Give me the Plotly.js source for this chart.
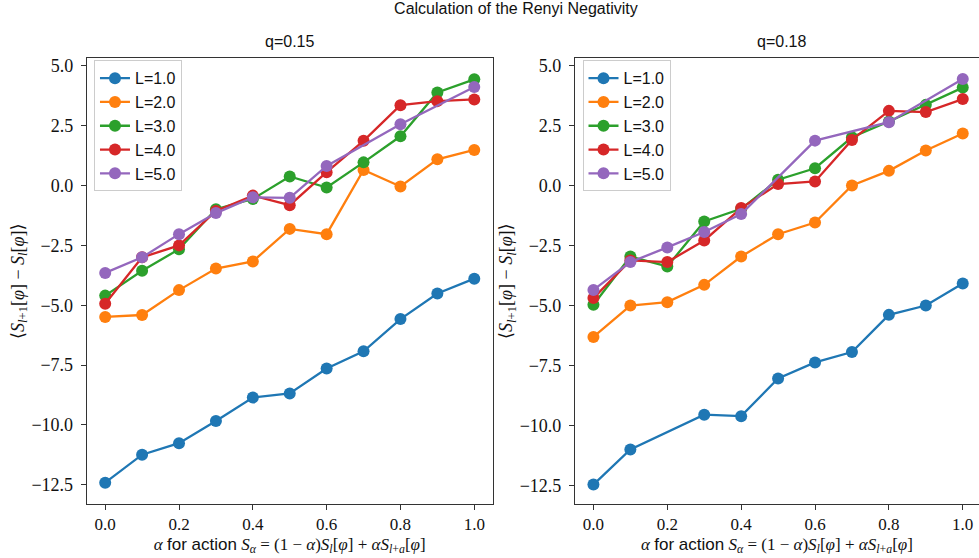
<!DOCTYPE html>
<html>
<head>
<meta charset="utf-8">
<script src="https://cdn.plot.ly/plotly-3.0.1.min.js"></script>
<style>html,body{margin:0;padding:0;background:#fff;}#chart{width:979px;height:558px;}</style>
</head>
<body>
<div id="chart"></div>
<script>
// alpha values (x axis)
const alpha = [0.0, 0.1, 0.2, 0.3, 0.4, 0.5, 0.6, 0.7, 0.8, 0.9, 1.0];
const seriesNames = ["L=1.0", "L=2.0", "L=3.0", "L=4.0", "L=5.0"];
const colors = ["#1f77b4", "#ff7f0e", "#2ca02c", "#d62728", "#9467bd"];

// q = 0.15 (left panel)
const q15_L1 = [-12.42, -11.25, -10.77, -9.84, -8.86, -8.69, -7.65, -6.93, -5.58, -4.51, -3.89];
const q15_L2 = [-5.49, -5.41, -4.37, -3.47, -3.17, -1.81, -2.03, 0.65, -0.04, 1.10, 1.49];
const q15_L3 = [-4.60, -3.56, -2.66, -0.99, -0.56, 0.38, -0.08, 0.97, 2.06, 3.89, 4.44];
const q15_L4 = [-4.94, -3.00, -2.50, -1.06, -0.42, -0.82, 0.56, 1.87, 3.36, 3.53, 3.60];
const q15_L5 = [-3.65, -3.00, -2.03, -1.15, -0.49, -0.51, 0.82, null, 2.56, null, 4.12];

// q = 0.18 (right panel)
const q18_L1 = [-12.46, -11.00, null, -9.55, -9.61, -8.04, -7.37, -6.94, -5.39, -5.00, -4.08];
const q18_L2 = [-6.31, -5.00, -4.86, -4.14, -2.96, -2.03, -1.54, 0.00, 0.61, 1.46, 2.17];
const q18_L3 = [-4.97, -2.96, -3.37, -1.50, -0.97, 0.24, 0.72, 2.01, 2.67, 3.36, 4.08];
const q18_L4 = [-4.69, -3.12, -3.19, -2.29, -0.94, 0.06, 0.17, 1.90, 3.11, 3.06, 3.60];
const q18_L5 = [-4.35, -3.19, -2.58, -1.94, -1.19, null, 1.87, null, 2.64, null, 4.44];

const panelTitles = ["q=0.15", "q=0.18"];
const xTicks = [0.0, 0.2, 0.4, 0.6, 0.8, 1.0];
const yTicks = [-12.5, -10.0, -7.5, -5.0, -2.5, 0.0, 2.5, 5.0];

const left = [q15_L1, q15_L2, q15_L3, q15_L4, q15_L5];
const right = [q18_L1, q18_L2, q18_L3, q18_L4, q18_L5];

const traces = [];
left.forEach((ys, i) => traces.push({
  x: alpha, y: ys, name: seriesNames[i], type: "scatter", mode: "lines+markers",
  connectgaps: true, xaxis: "x", yaxis: "y", legend: "legend",
  line: {color: colors[i], width: 2.3}, marker: {color: colors[i], size: 12}
}));
right.forEach((ys, i) => traces.push({
  x: alpha, y: ys, name: seriesNames[i], type: "scatter", mode: "lines+markers",
  connectgaps: true, xaxis: "x2", yaxis: "y2", legend: "legend2",
  line: {color: colors[i], width: 2.3}, marker: {color: colors[i], size: 12}
}));

const serif = "'Liberation Serif', 'DejaVu Serif', serif";
const sans = "'Liberation Sans', Arial, sans-serif";
const xTitle = '<i>α</i> <span style="font-family:\'Liberation Sans\'">for action</span> <i>S</i><sub><i>α</i></sub> = (1 − <i>α</i>)<i>S</i><sub><i>l</i></sub>[<i>φ</i>] + <i>αS</i><sub><i>l</i>+<i>a</i></sub>[<i>φ</i>]';
const yTitle = '⟨<i>S</i><sub><i>l</i>+1</sub>[<i>φ</i>] − <i>S</i><sub><i>l</i></sub>[<i>φ</i>]⟩';

function xa(domain, range, anchor) {
  return {domain: domain, range: range, anchor: anchor, tickmode: "array", tickvals: xTicks,
    ticktext: xTicks.map(v => v.toFixed(1)), ticks: "outside", ticklen: 5, tickwidth: 1, tickcolor: "#333",
    ticklabelstandoff: 0,
    showline: true, mirror: true, linecolor: "#333", linewidth: 1, showgrid: false, zeroline: false,
    tickfont: {family: serif, size: 17, color: "#111"},
    title: {text: xTitle, font: {family: serif, size: 17, color: "#111"}, standoff: 4}};
}
function ya(domain, range, anchor) {
  return {domain: domain, range: range, anchor: anchor, tickmode: "array", tickvals: yTicks,
    ticktext: yTicks.map(v => (v < 0 ? "−" : "") + Math.abs(v).toFixed(1)), ticks: "outside", ticklen: 5, tickwidth: 1, tickcolor: "#333",
    ticklabelstandoff: 4,
    showline: true, mirror: true, linecolor: "#333", linewidth: 1, showgrid: false, zeroline: false,
    tickfont: {family: serif, size: 18, color: "#111"},
    title: {text: yTitle, font: {family: serif, size: 18, color: "#111"}, standoff: 2}};
}

const legendStyle = {xanchor: "left", yanchor: "top", bgcolor: "rgba(255,255,255,0.8)",
  bordercolor: "#ccc", borderwidth: 1, font: {family: sans, size: 16, color: "#111"}};

const layout = {
  width: 979, height: 558, margin: {l: 0, r: 0, t: 0, b: 0},
  paper_bgcolor: "#fff", plot_bgcolor: "#fff", showlegend: true,
  title: {text: "Calculation of the Renyi Negativity", x: 0.527, xanchor: "center", y: 0.985, yanchor: "middle",
    font: {family: sans, size: 16, color: "#111"}},
  xaxis: xa([0.0886, 0.5033], [-0.05, 1.05], "y"),
  yaxis: ya([0.0968, 0.8955], [-13.31, 5.32], "x"),
  xaxis2: xa([0.5873, 1.0], [-0.05, 1.044], "y2"),
  yaxis2: ya([0.0968, 0.8955], [-13.27, 5.30], "x2"),
  legend: Object.assign({x: 0.096, y: 0.892}, legendStyle),
  legend2: Object.assign({x: 0.595, y: 0.892}, legendStyle),
  annotations: [
    {text: panelTitles[0], xref: "paper", yref: "paper", x: 0.2959, y: 0.925, xanchor: "center", yanchor: "middle",
     showarrow: false, font: {family: sans, size: 16, color: "#111"}},
    {text: panelTitles[1], xref: "paper", yref: "paper", x: 0.798, y: 0.925, xanchor: "center", yanchor: "middle",
     showarrow: false, font: {family: sans, size: 16, color: "#111"}}
  ]
};

Plotly.newPlot("chart", traces, layout, {displayModeBar: false, staticPlot: true});
</script>
</body>
</html>
